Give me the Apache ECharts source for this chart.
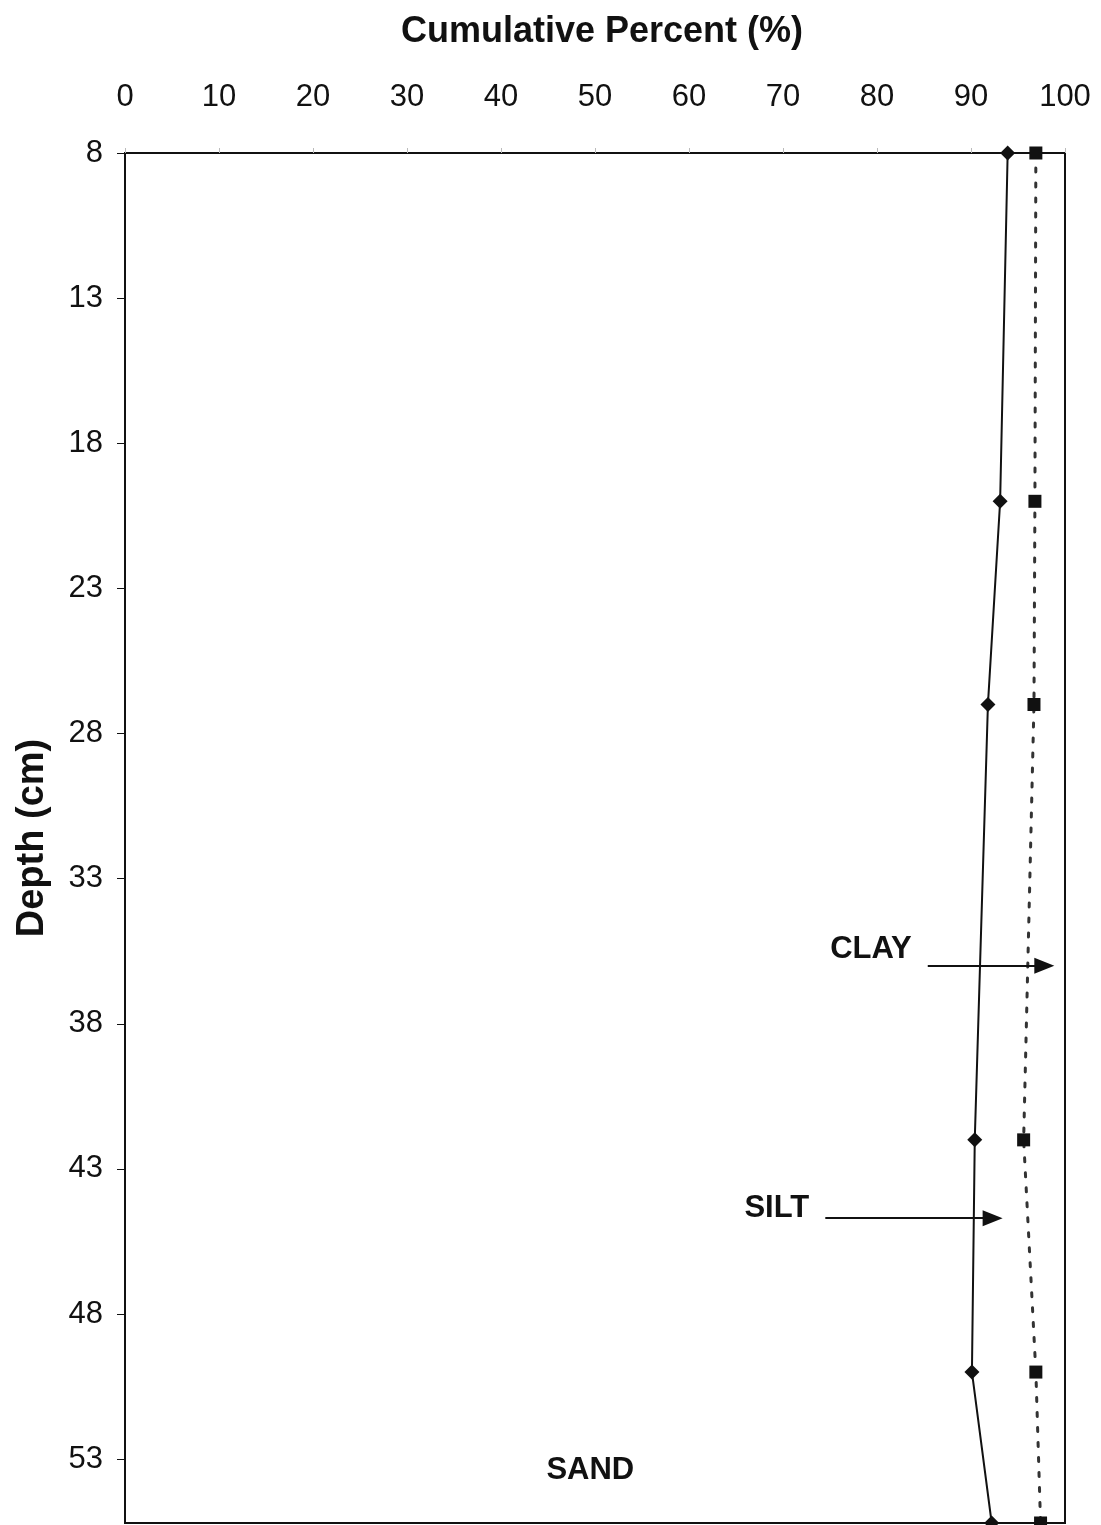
<!DOCTYPE html>
<html><head><meta charset="utf-8">
<script src="https://cdn.jsdelivr.net/npm/echarts@6/dist/echarts.min.js"></script>
<style>html,body{margin:0;padding:0;background:#fff}#c{width:1101px;height:1525px}</style>
</head><body><div id="c"></div>
<script>
const depths = [8, 20, 27, 42, 50, 55.2];
const sandPct = [93.9, 93.1, 91.8, 90.4, 90.1, 92.2];
const siltPct = [96.9, 96.8, 96.7, 95.6, 96.9, 97.4];
const xTicks = [0,10,20,30,40,50,60,70,80,90,100];
const yTicks = [8,13,18,23,28,33,38,43,48,53];
const arrows = [
  {name:'CLAY', from:[85.4, 36.0], to:[97.8, 36.0], lift:-16},
  {name:'SILT', from:[74.5, 44.7], to:[92.3, 44.7], lift:-10}
];
const sandLabel = {name:'SAND', at:[49.5, 53.4]};

const font = 'Liberation Sans, Arial, sans-serif';
const chart = echarts.init(document.getElementById('c'));
chart.setOption({
  animation:false,
  backgroundColor:'#fff',
  title:{text:'Cumulative Percent (%)', left:597, top:9, textAlign:'center',
    textStyle:{fontFamily:font, fontSize:36, fontWeight:'bold', color:'#111'}},
  grid:{left:125, right:36, top:153, bottom:2, show:true, borderColor:'#111', borderWidth:2,
    backgroundColor:'transparent', containLabel:false, outerBoundsMode:'none'},
  xAxis:{type:'value', position:'top', min:0, max:100, interval:10,
    axisLine:{show:true, lineStyle:{color:'#111', width:2}},
    axisTick:{show:true, length:5, lineStyle:{color:'#bbb', width:1}},
    splitLine:{show:false},
    axisLabel:{fontFamily:font, fontSize:31, color:'#111', margin:40,
      formatter:v=> xTicks.includes(v) ? String(v) : ''}},
  yAxis:{type:'value', inverse:true, min:8, max:55.2, interval:5,
    name:'Depth (cm)', nameLocation:'middle', nameGap:73, nameRotate:90,
    nameTextStyle:{fontFamily:font, fontSize:38, fontWeight:'bold', color:'#111'},
    axisLine:{show:true, lineStyle:{color:'#111', width:2}},
    axisTick:{show:true, length:8, lineStyle:{color:'#111', width:1}},
    splitLine:{show:false},
    axisLabel:{fontFamily:font, fontSize:31, color:'#111', margin:22, showMaxLabel:false,
      formatter:v=> yTicks.includes(v) ? String(v) : ''}},
  series:[
    {type:'line', name:'Sand', clip:false, data:depths.map((d,i)=>[sandPct[i], d]),
      symbol:'diamond', symbolSize:15, itemStyle:{color:'#111'},
      lineStyle:{color:'#111', width:2},
      markLine:{silent:true, symbol:['none','triangle'], symbolSize:[16,20], precision:2,
        lineStyle:{color:'#111', width:2, type:'solid'},
        data:arrows.map(a=>[{name:a.name, coord:a.from,
          label:{show:true, position:'start', distance:16, fontFamily:font, fontSize:31, fontWeight:'bold', color:'#111', offset:[0,a.lift], formatter:p=>p.name}},
          {coord:a.to}])}
    },
    {type:'line', name:'Silt', clip:false, data:depths.map((d,i)=>[siltPct[i], d]),
      symbol:'rect', symbolSize:13, itemStyle:{color:'#111'},
      lineStyle:{color:'#333', width:3, type:[4,11], cap:'round'}},
    {type:'scatter', name:'label', data:[{value:sandLabel.at, name:sandLabel.name}],
      symbolSize:1, silent:true, itemStyle:{opacity:1, color:'#fff'},
      label:{show:true, position:'inside', formatter:p=>p.name, fontFamily:font, fontSize:31, fontWeight:'bold', color:'#111', opacity:1}}
  ]
});
</script></body></html>
